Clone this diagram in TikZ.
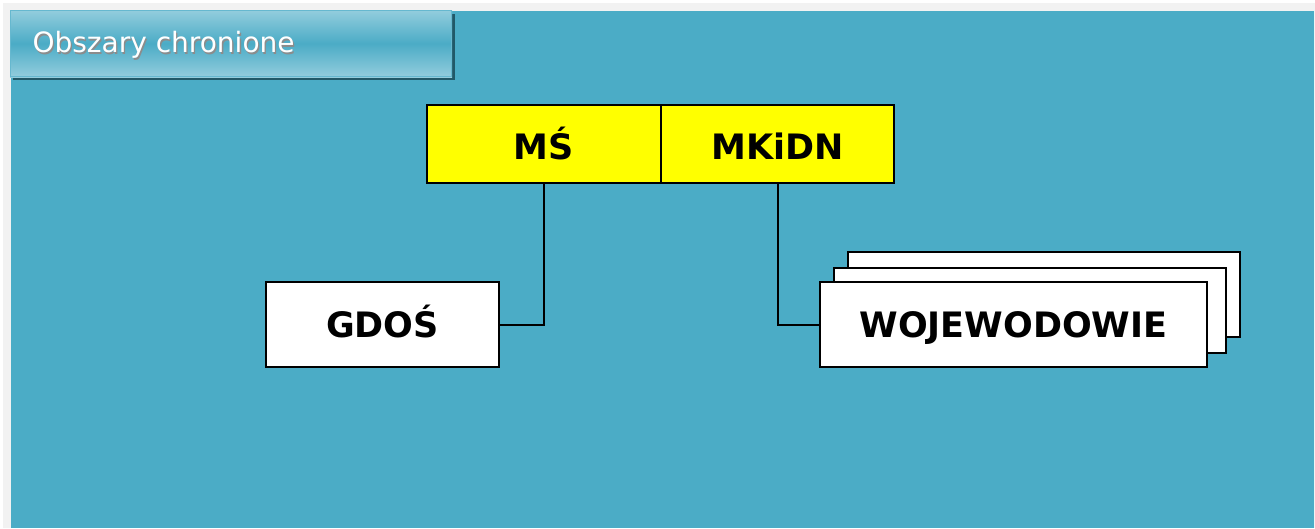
\documentclass[tikz,border=0pt]{standalone}
\usepackage{fontspec}
\setmainfont{DejaVu Sans}
\definecolor{teal}{HTML}{4BACC6}
\definecolor{tealL}{HTML}{93CDDD}
\definecolor{tealD}{HTML}{215968}
\definecolor{pagebg}{HTML}{F2F2F2}
\definecolor{yel}{HTML}{FFFF00}
\tikzset{
  box/.style={draw=black, line width=2pt, inner sep=0pt, text height=25.5pt, text depth=0pt,
    font=\fontsize{35}{38}\selectfont\bfseries},
  ybox/.style={box, fill=yel, minimum height=78pt, text height=31pt},
  wbox/.style={box, fill=white, minimum height=85pt},
  conn/.style={draw=black, line width=2pt},
}
\begin{document}
\begin{tikzpicture}[x=1pt,y=-1pt]
\useasboundingbox (0,0) rectangle (1315,528);
\fill[pagebg] (0,0) rectangle (1315,528);
\fill[white] (0,0) rectangle (3,528);
\fill[white] (0,0) rectangle (1315,3);
\fill[teal] (11,11) rectangle (1314,528);
% title
\fill[tealD] (13,14) rectangle (455,80);
\shade[top color=tealL, bottom color=tealL, middle color=teal] (10,10) rectangle (452,77);
\draw[teal!85!white, line width=1.2pt] (10.6,10.6) rectangle (451.4,76.4);
\node[anchor=west, text=black!45, font=\fontsize{28}{30}\selectfont] at (30.3,46.4) {Obszary chronione};
\node[anchor=west, text=white, font=\fontsize{28}{30}\selectfont] (title) at (29,45) {Obszary chronione};
% top boxes
\node[ybox, minimum width=234pt] (ms) at (544,144) {MŚ};
\node[ybox, minimum width=233pt] (mk) at (777.5,144) {MKiDN};
% lower boxes
\node[wbox, minimum width=392pt] (woj3) at (1044,294.5) {};
\node[wbox, minimum width=392pt] (woj2) at (1030,310.5) {};
\node[wbox, minimum width=387pt] (woj) at (1013.5,324.5) {WOJEWODOWIE};
\node[wbox, minimum width=233pt] (gdos) at (382.5,324.5) {GDOŚ};
% connectors
\draw[conn] (ms.south) |- (gdos.east);
\draw[conn] (mk.south) |- (woj.west);
\end{tikzpicture}
\end{document}
